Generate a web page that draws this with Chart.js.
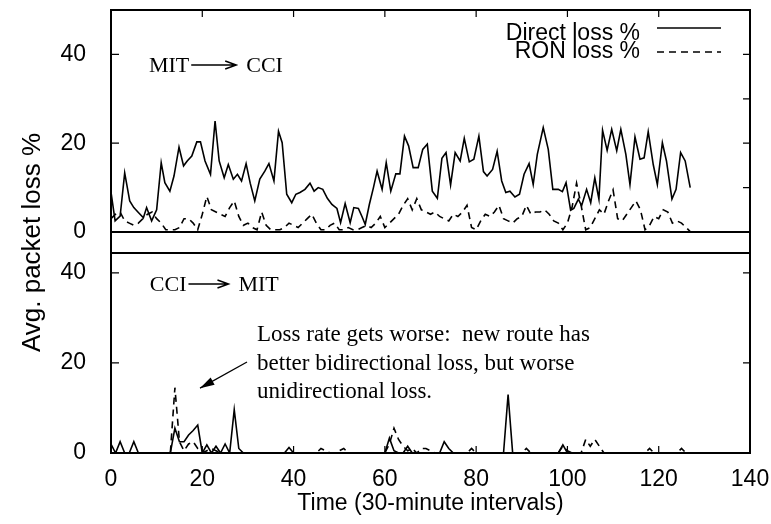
<!DOCTYPE html>
<html>
<head>
<meta charset="utf-8">
<script src="https://cdn.jsdelivr.net/npm/chart.js@4"></script>
<style>
  html, body { margin: 0; background: #fff; }
  #wrap { width: 771px; height: 524px; }
</style>
</head>
<body>
<div id="wrap"><canvas id="chart" width="771" height="524"></canvas></div>
<script>
// --- data ---
const xTicks = [0, 20, 40, 60, 80, 100, 120, 140];
const yTicks = [0, 20, 40];
const rightTicksTop = [0, 10, 20, 30, 40];

// MIT -> CCI, direct path (time step, loss %)
const directTopT = [
  0, 0.9, 2, 3, 4.1, 5, 6, 7.1, 7.8, 8.9, 10,
  11, 11.8, 12.9, 13.8, 14.9, 15.9, 16.7, 17.7, 18.8, 19.6,
  20.6, 21.8, 22.8, 23.7, 24.8, 25.7, 26.8, 27.7, 28.6, 29.6,
  30.5, 31.5, 32.6, 33.7, 34.6, 35.7, 36.7, 37.5, 38.5, 39.6,
  40.5, 41.4, 42.5, 43.6, 44.5, 45.4, 46.4, 47.4, 48.4, 49.5,
  50.3, 51.3, 52.4, 53.2, 54.2, 55.1, 55.7, 56.6, 57.5, 58.3, 59.4,
  60.3, 61.3, 62.4, 63.3, 64.3, 65.2, 66.2, 67.3, 68.3, 69.3,
  70.4, 71.5, 72.5, 73.4, 74.4, 75.4, 76.5, 77.4, 78.5, 79.5,
  80.6, 81.6, 82.4, 83.6, 84.6, 85.6, 86.5, 87.4, 88.5, 89.5,
  90.5, 91.6, 92.5, 93.4, 94.7, 95.8, 96.8, 98, 98.9, 99.7,
  100.7, 101.4, 102.4, 103.1, 104.2, 105.1, 106, 106.9, 107.7, 108.7,
  109.7, 110.8, 111.7, 112.8, 113.7, 114.8, 115.9, 116.8, 117.7, 118.8,
  119.7, 120.8, 121.7, 122.9, 123.8, 124.8, 125.8, 126.9
];
const directTop = [
  9, 2.5, 3.6, 13.3, 7, 5.5, 4.4, 3.2, 5.5, 2.5, 5,
  15.6, 11.1, 9.2, 12.6, 19.1, 14.9, 16, 17.1, 20.3, 20.3,
  16, 13, 25, 16, 12.2, 15.2, 11.9, 13, 11.5, 15.4,
  11, 7, 11.9, 13.7, 15.4, 11.5, 22.7, 20.1, 8.5, 6.6,
  8.5, 8.9, 9.6, 11, 9.2, 10, 9.6, 7.6, 6.2, 5.3,
  2.1, 6.4, 2.1, 5.5, 5.3, 3.2, 1.7, 6.2, 10, 13.7, 9.6,
  15.6, 9.2, 13.1, 13.1, 21.6, 19.4, 14.5, 14.5, 18.6, 19.8,
  9.2, 7.6, 16.6, 17.9, 10.6, 17.9, 16, 21.1, 15.8, 16.4,
  21.6, 13.6, 12.6, 14.1, 18.2, 11.5, 8.9, 9.2, 7.9, 8.5,
  13, 15.4, 10.7, 17.5, 23.5, 18.6, 9.6, 9.6, 9.1, 11.1,
  4.9, 5.3, 7.4, 5.9, 9.6, 6.6, 12.2, 7.4, 22.9, 18.4,
  23.1, 18.3, 23.1, 17.5, 10.7, 21.4, 16.4, 16.7, 22.6, 15.2,
  10.7, 20.1, 16, 7.4, 9.6, 17.9, 16, 10
];
// MIT -> CCI, RON path, one value per interval
const ronTop = [
  3, 4, 4.5, 2.5, 2, 1.5, 2, 3, 4, 4.5,
  3, 2, 0.5, 0.5, 0.5, 1, 3, 3, 2, 0.5,
  4, 8, 5, 4.5, 4, 3.5, 5.5, 7, 3.5, 1.5,
  2, 1, 0.5, 4.5, 1.5, 0.5, 0.5, 0.5, 1, 2,
  1.5, 1, 2, 3, 4, 2, 0.5, 0.5, 1.5, 2,
  0.5, 0.5, 1, 0.5, 0.5, 1, 1.5, 1, 2, 3.5,
  1, 2, 3, 4, 6, 7.5, 5, 7.5, 5, 4.5,
  4, 4.5, 3.5, 3, 2.5, 4, 3.5, 4.5, 6, 1,
  0.5, 2.5, 4, 3.5, 4.5, 6, 3, 2.5, 2, 3,
  3.5, 6, 4, 4.5, 4.5, 5, 4, 2.5, 2, 0.5,
  2, 5.5, 11, 6, 0.5, 1, 3, 5, 4, 7,
  9.5, 3, 2.5, 4, 5.5, 7, 5, 0.5, 1.5, 3.5,
  3, 5, 4.5, 2, 2.5, 2, 1, 0
];
// CCI -> MIT, one value per interval
const directBot = [
  2, 0, 2.5, 0, 0, 2.5, 0, 0, 0, 0,
  0, 0, 0, 0, 5.5, 2.5, 2.5, 4, 5, 6.2,
  0, 1.8, 0, 1.5, 0, 2, 0, 9.6, 1, 0,
  0, 0, 0, 0, 0, 0, 0, 0, 0, 1.2,
  0, 0, 0, 0, 0, 0, 0, 0, 0, 0,
  0, 0, 0, 0, 0, 0, 0, 0, 0, 0,
  0, 3.3, 0.5, 0, 0, 1.5, 0, 0, 0, 0,
  0, 0, 0, 2.5, 1, 0, 0, 0, 0, 0,
  0, 0, 0, 0, 0, 0, 0, 13, 0, 0,
  0, 0, 0, 0, 0, 0, 0, 0, 0, 1.8,
  0, 0, 0, 0, 0, 0, 0, 0, 0, 0,
  0, 0, 0, 0, 0, 0, 0, 0, 0, 0,
  0, 0, 0, 0, 0, 0, 0, 0
];
const ronBot = [
  0, 0, 0, 0, 0, 0, 0, 0, 0, 0,
  0, 0, 0, 0, 14.5, 2.5, 0.5, 2, 2.5, 1,
  0, 0.5, 1, 0.5, 0, 0, 0, 0, 0, 0,
  0, 0, 0, 0, 0, 0, 0, 0, 0, 0,
  0, 0, 0, 0, 0, 0, 1, 0.5, 0, 0,
  0.5, 1, 0, 0, 0, 0, 0, 0, 0, 0,
  0, 2, 5.5, 3, 1.5, 0.5, 1, 0, 1, 1,
  0.5, 0, 0, 0, 0, 0, 0, 0, 0, 1,
  0, 0, 0, 0, 0, 0, 0, 0, 0, 0,
  0, 1, 0, 0, 0, 0, 0, 0, 0, 1.5,
  0.5, 0, 0, 0, 3, 1.5, 3, 1.5, 0, 0,
  0, 0, 0, 0, 0, 0, 0, 0, 1, 0,
  0, 0, 0, 0, 0, 1, 0, 0
];

const SANS = '"Liberation Sans", Arial, sans-serif';
const SERIF = '"Liberation Serif", "Times New Roman", serif';
const DASH = [7, 5];

const perStep = (arr) => arr.map((v, i) => ({x: i, y: v}));

// frame, inward ticks, in-plot labels and key (gnuplot look)
const framePlugin = {
  id: 'frame',
  afterDatasetsDraw(chart) {
    const {ctx, chartArea: a, scales: {x, yTop, yBot}} = chart;
    ctx.save();
    ctx.strokeStyle = '#000';
    ctx.fillStyle = '#000';

    ctx.lineWidth = 2;
    ctx.strokeRect(a.left, a.top, a.right - a.left, a.bottom - a.top);
    ctx.beginPath();
    ctx.moveTo(a.left, yTop.bottom); ctx.lineTo(a.right, yTop.bottom);
    ctx.moveTo(a.left, yBot.top); ctx.lineTo(a.right, yBot.top);
    ctx.stroke();

    ctx.lineWidth = 1.2;
    ctx.beginPath();
    xTicks.slice(1, -1).forEach((v) => {
      const px = x.getPixelForValue(v);
      ctx.moveTo(px, a.top); ctx.lineTo(px, a.top + 7);
      ctx.moveTo(px, a.bottom); ctx.lineTo(px, a.bottom - 7);
    });
    [yTop, yBot].forEach((s) => yTicks.forEach((v) => {
      const py = s.getPixelForValue(v);
      ctx.moveTo(a.left, py); ctx.lineTo(a.left + 8, py);
    }));
    rightTicksTop.forEach((v) => {
      const py = yTop.getPixelForValue(v);
      ctx.moveTo(a.right, py); ctx.lineTo(a.right - 7, py);
    });
    yTicks.forEach((v) => {
      const py = yBot.getPixelForValue(v);
      ctx.moveTo(a.right, py); ctx.lineTo(a.right - 7, py);
    });
    ctx.stroke();

    // "A --> B" panel labels
    const arrowLabel = (scale, from, to, xv, yv, arrowLen) => {
      ctx.font = '22px ' + SERIF;
      ctx.textBaseline = 'middle';
      ctx.textAlign = 'left';
      const px = x.getPixelForValue(xv);
      const py = scale.getPixelForValue(yv);
      ctx.fillText(from, px, py);
      const x0 = px + ctx.measureText(from).width + 2;
      const x1 = x0 + arrowLen;
      const ay = py - 1;
      ctx.lineWidth = 1.5;
      ctx.beginPath();
      ctx.moveTo(x0, ay); ctx.lineTo(x1, ay);
      ctx.moveTo(x1 - 11, ay - 4); ctx.lineTo(x1, ay); ctx.lineTo(x1 - 11, ay + 4);
      ctx.stroke();
      ctx.fillText(to, x1 + 10, py);
    };
    arrowLabel(yTop, 'MIT', 'CCI', 8.3, 37.4, 45);
    arrowLabel(yBot, 'CCI', 'MIT', 8.5, 37.3, 40);

    // annotation in the lower panel
    ctx.font = '23px ' + SERIF;
    ctx.textAlign = 'left';
    ctx.textBaseline = 'middle';
    const note = ['Loss rate gets worse:  new route has',
                  'better bidirectional loss, but worse',
                  'unidirectional loss.'];
    const nx = x.getPixelForValue(32);
    const ny = yBot.getPixelForValue(26.2);
    note.forEach((line, i) => ctx.fillText(line, nx, ny + i * 28.5));

    const sx = x.getPixelForValue(29.8), sy = yBot.getPixelForValue(20.2);
    const tx = x.getPixelForValue(19.5), ty = yBot.getPixelForValue(14.4);
    const ang = Math.atan2(ty - sy, tx - sx);
    ctx.lineWidth = 1.3;
    ctx.beginPath();
    ctx.moveTo(sx, sy); ctx.lineTo(tx, ty);
    ctx.stroke();
    ctx.beginPath();
    ctx.moveTo(tx, ty);
    ctx.lineTo(tx - 15 * Math.cos(ang - 0.28), ty - 15 * Math.sin(ang - 0.28));
    ctx.lineTo(tx - 15 * Math.cos(ang + 0.28), ty - 15 * Math.sin(ang + 0.28));
    ctx.closePath();
    ctx.fill();

    // key
    ctx.font = '23px ' + SANS;
    ctx.textAlign = 'right';
    const keys = [[chart.data.datasets[0], 34, 28], [chart.data.datasets[1], 52, 52]];
    keys.forEach(([ds, textY, lineY]) => {
      ctx.fillText(ds.label, 640, textY);
      ctx.lineWidth = 1.5;
      ctx.setLineDash(ds.borderDash || []);
      ctx.beginPath();
      ctx.moveTo(657, lineY); ctx.lineTo(721, lineY);
      ctx.stroke();
      ctx.setLineDash([]);
    });
    ctx.restore();
  },
};

// pin the plot box: no label overflow padding, fixed axis sizes
const fixWidth = (s) => { s.width = 111; s.paddingTop = 0; s.paddingBottom = 0; };
const fixHeight = (s) => { s.height = 71; s.paddingLeft = 0; s.paddingRight = 0; };
const setTicks = (vals) => (scale) => { scale.ticks = vals.map((v) => ({value: v})); };
const tickFont = {family: SANS, size: 23};

new Chart(document.getElementById('chart'), {
  type: 'line',
  data: {
    datasets: [
      {label: 'Direct loss %', data: directTopT.map((t, i) => ({x: t, y: directTop[i]})), yAxisID: 'yTop', borderDash: []},
      {label: 'RON loss %', data: perStep(ronTop), yAxisID: 'yTop', borderDash: DASH},
      {label: 'Direct loss %', data: perStep(directBot), yAxisID: 'yBot', borderDash: []},
      {label: 'RON loss %', data: perStep(ronBot), yAxisID: 'yBot', borderDash: DASH},
    ],
  },
  options: {
    responsive: false,
    animation: false,
    layout: {padding: {top: 10, right: 21, left: 0, bottom: 0}},
    elements: {
      point: {radius: 0},
      line: {borderColor: '#000', borderWidth: 1.6, tension: 0},
    },
    plugins: {legend: {display: false}, tooltip: {enabled: false}},
    scales: {
      x: {
        type: 'linear', position: 'bottom', min: 0, max: 140,
        afterBuildTicks: setTicks(xTicks),
        afterFit: fixHeight,
        grid: {display: false}, border: {display: false},
        ticks: {color: '#000', font: tickFont, padding: 5, maxRotation: 0},
        title: {display: true, text: 'Time (30-minute intervals)', color: '#000',
                font: {family: SANS, size: 23}, padding: {top: 0, bottom: 7}},
      },
      yTop: {
        type: 'linear', position: 'left', stack: 'panels', stackWeight: 222, weight: 3,
        min: 0, max: 50,
        afterBuildTicks: setTicks(yTicks), afterFit: fixWidth,
        grid: {display: false}, border: {display: false},
        ticks: {color: '#000', font: tickFont, padding: 17},
      },
      yGap: {
        type: 'linear', position: 'left', stack: 'panels', stackWeight: 21, weight: 2,
        min: 0, max: 1,
        afterFit: fixWidth,
        grid: {display: false}, border: {display: false},
        ticks: {display: false},
        title: {display: true, text: 'Avg. packet loss %', color: '#000',
                font: {family: SANS, size: 26}, padding: {top: 17, bottom: 0}},
      },
      yBot: {
        type: 'linear', position: 'left', stack: 'panels', stackWeight: 200, weight: 1,
        min: 0, max: 44.4,
        afterBuildTicks: setTicks(yTicks), afterFit: fixWidth,
        grid: {display: false}, border: {display: false},
        ticks: {color: '#000', font: tickFont, padding: 17},
      },
    },
  },
  plugins: [framePlugin],
});
</script>
</body>
</html>
